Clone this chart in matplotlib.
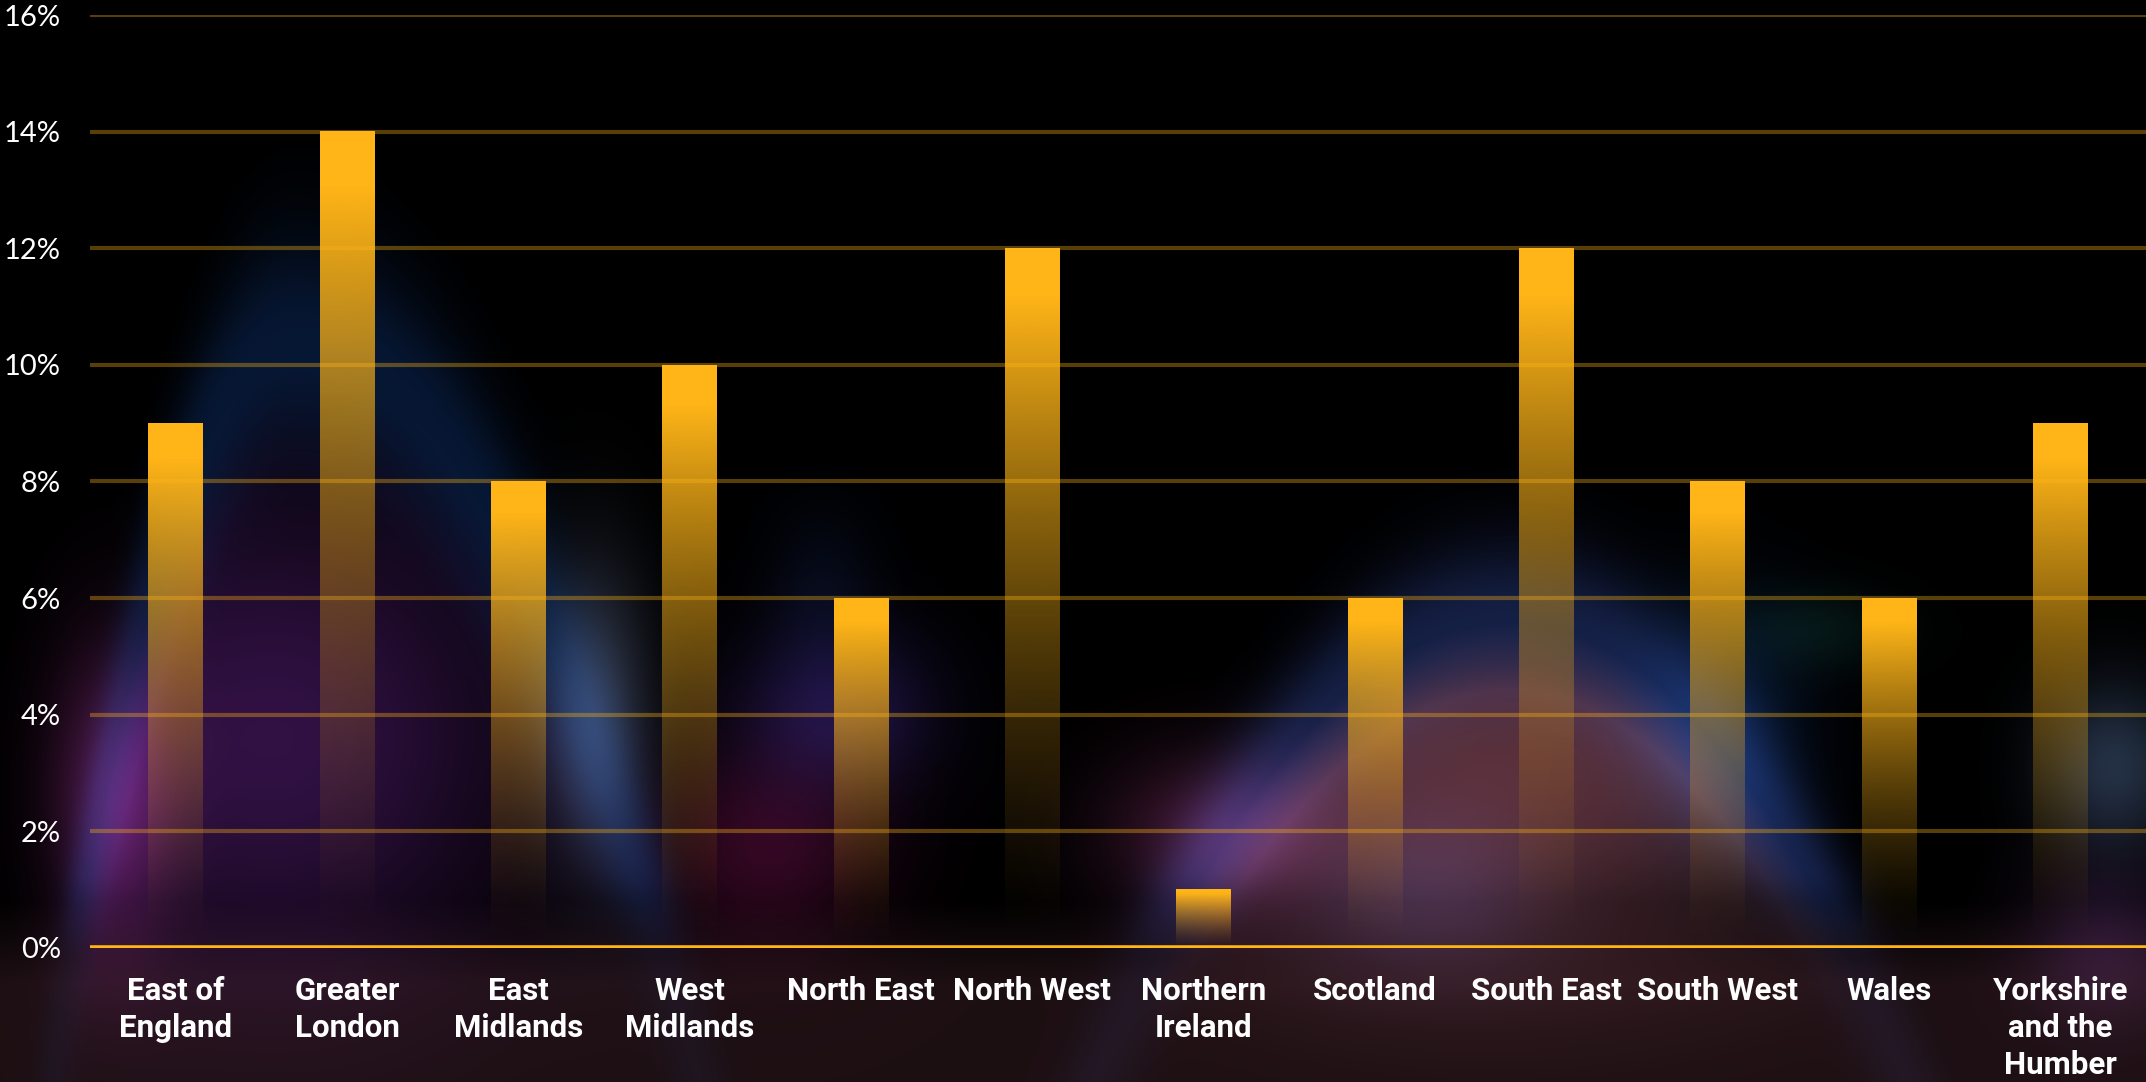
import numpy as np
import matplotlib
matplotlib.use('Agg')
import matplotlib.pyplot as plt
import matplotlib.colors as mcolors
from matplotlib.ticker import FuncFormatter

regions = ['East of\nEngland', 'Greater\nLondon', 'East\nMidlands', 'West\nMidlands',
           'North East', 'North West', 'Northern\nIreland', 'Scotland',
           'South East', 'South West', 'Wales', 'Yorkshire\nand the\nHumber']
share = [9, 14, 8, 10, 6, 12, 1, 6, 12, 8, 6, 9]
y_ticks = [0, 2, 4, 6, 8, 10, 12, 14, 16]

GOLD = '#FFB518'

fig = plt.figure(figsize=(21.46, 10.82), dpi=100)
fig.patch.set_facecolor('black')

# -----------------------------------------------------------------------
# Blurry coloured backdrop (decorative)
# -----------------------------------------------------------------------
W, H = 784, 396
X, Y = np.meshgrid(np.linspace(0, 1568, W), np.linspace(0, 791, H))
img = np.zeros((H, W, 3))


def add(color, weight):
    global img
    img += weight[..., None] * np.array(mcolors.to_rgb(color))


def blob(cx, cy, sx, sy):
    return np.exp(-((X - cx) / sx) ** 2 - ((Y - cy) / sy) ** 2)


def arc(px, py, kl, kr, w):
    k = np.where(X < px, kl, kr)
    yc = py + k * (X - px) ** 2
    return np.exp(-((Y - yc) / w) ** 2), yc


fade = np.clip((720 - Y) / 80, 0.25, 1)

# left hump
band, yc = arc(215, 250, 0.017, 0.0062, 80)
add('#0a2450', band * 0.65 * fade)
inside = np.clip((Y - yc) / 80, 0, 1) * blob(200, 540, 170, 170)
add('#3a1450', inside * 0.85)
add('#6a2060', blob(80, 580, 45, 110) * 0.7)
add('#2a1c60', blob(610, 520, 70, 60) * 0.7)
add('#55607e', blob(435, 520, 40, 110) * 0.55)
add('#480a30', blob(560, 620, 80, 70) * 0.7)
add('#10204a', blob(600, 430, 40, 60) * 0.3)

# right hump
band, yc = arc(1105, 455, 0.0036, 0.0040, 60)
add('#1c2a5c', band * 0.75 * fade)
inner = np.clip((Y - yc) / 50, 0, 1) * blob(1100, 570, 240, 130)
add('#6e3a44', inner * 0.8)
add('#5a2044', blob(890, 610, 80, 60) * 0.7)
add('#2a2a55', blob(1040, 650, 90, 60) * 0.5)
add('#0c2a58', blob(1260, 530, 60, 90) * 0.55)
add('#0a2822', blob(1330, 460, 60, 30) * 0.5)
add('#2c3c55', blob(1545, 560, 50, 60) * 0.8)
add('#381c44', blob(1540, 690, 60, 60) * 0.6)

# bottom strip
add('#221216', np.clip((Y - 660) / 60, 0, 1) * 0.85)

img = np.clip(img, 0, 1)
bg = fig.add_axes([0, 0, 1, 1], zorder=-1)
bg.imshow(img, extent=[0, 1, 0, 1], aspect='auto', interpolation='bicubic')
bg.axis('off')

# -----------------------------------------------------------------------
# Bars
# -----------------------------------------------------------------------
ax = fig.add_axes([0.042, 0.124, 0.958, 0.862])
ax.patch.set_alpha(0)

x = np.arange(len(regions))
bars = ax.bar(x, share, width=0.32, color='none', edgecolor='none')

# vertical gold -> transparent gradient for each bar (row 0 = bar top)
t = np.linspace(0, 1, 256)
tt = np.clip((t - 0.07) / 0.93, 0, 1)
grad = np.zeros((256, 1, 4))
grad[..., :3] = mcolors.to_rgb(GOLD)
grad[:, 0, 3] = (1 - tt) ** 1.5
for b in bars:
    ax.imshow(grad, extent=[b.get_x(), b.get_x() + b.get_width(), 0, b.get_height()],
              origin='upper', aspect='auto', interpolation='bilinear', zorder=3)
ax.set_xlim(-0.5, len(regions) - 0.5)
ax.set_ylim(0, 16)

ax.set_yticks(y_ticks)
ax.yaxis.set_major_formatter(FuncFormatter(lambda v, p: f'{v:.0f}%'))
ax.grid(axis='y', color=GOLD, alpha=0.35, linewidth=3)
ax.set_axisbelow(True)
ax.axhline(0, color=GOLD, linewidth=4, zorder=4)

for s in ax.spines.values():
    s.set_visible(False)

ax.set_xticks(x)
ax.set_xticklabels(regions, fontsize=22.5, fontweight='bold', color='white',
                   family=['Roboto', 'DejaVu Sans'], linespacing=1.3, va='top')
ax.tick_params(axis='x', length=0, pad=20)
ax.tick_params(axis='y', length=0, pad=21)
for lab in ax.get_yticklabels():
    lab.set_fontsize(21)
    lab.set_family(['Lato', 'DejaVu Sans'])
    lab.set_color('white')

fig.savefig('out.png', dpi=100, facecolor='black')
